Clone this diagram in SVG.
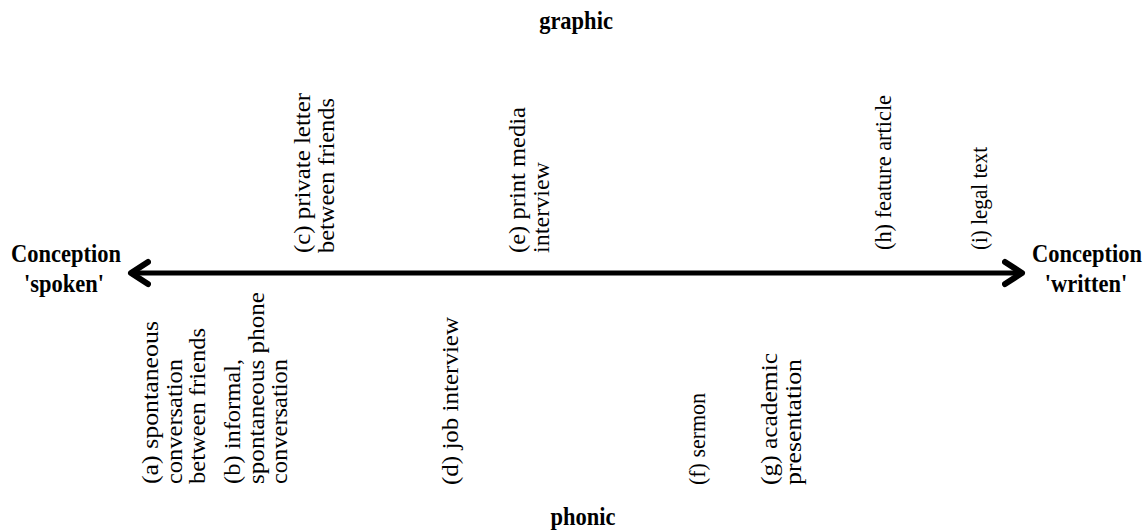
<svg xmlns="http://www.w3.org/2000/svg" width="1144" height="531" viewBox="0 0 1144 531">
  <style>
    text { font-family: "Liberation Serif", "Times New Roman", serif; font-size: 22.5px; fill: #000; }
    .pole { font-weight: bold; text-anchor: middle; }
    .axis { stroke: #000; stroke-width: 5; fill: none; }
  </style>
  <defs>
    <marker id="chev" viewBox="0 0 24 30" refX="20" refY="15" markerWidth="24" markerHeight="30" markerUnits="userSpaceOnUse" orient="auto-start-reverse">
      <path d="M3 4 L20 15 L3 26" fill="none" stroke="#000" stroke-width="6" stroke-linecap="round" stroke-linejoin="round"/>
    </marker>
  </defs>
  <rect width="1144" height="531" fill="#fff"/>

  <!-- medium axis titles -->
  <g id="graphic"><text class="pole" transform="translate(576,29) scale(1,1.125)">graphic</text></g>
  <g id="phonic"><text class="pole" transform="translate(583,525) scale(1,1.125)">phonic</text></g>

  <!-- conception poles -->
  <g id="spoken">
    <text class="pole" transform="translate(66,262) scale(1,1.125)">Conception</text>
    <text class="pole" transform="translate(64,292) scale(1,1.125)">'spoken'</text>
  </g>
  <g id="written">
    <text class="pole" transform="translate(1087,262) scale(1,1.125)">Conception</text>
    <text class="pole" transform="translate(1086,292) scale(1,1.125)">'written'</text>
  </g>

  <!-- conception continuum -->
  <g id="connectors">
    <line class="axis" x1="131" y1="273" x2="1022" y2="273" marker-start="url(#chev)" marker-end="url(#chev)"/>
  </g>

  <!-- text types above the axis (graphic); each line is fitted to its run length -->
  <g id="c">
    <text transform="translate(310,253) rotate(-90)" lengthAdjust="spacingAndGlyphs"><tspan x="0" y="0" textLength="160" lengthAdjust="spacingAndGlyphs">(c) private letter</tspan><tspan x="0" dy="23.5" textLength="155" lengthAdjust="spacingAndGlyphs">between friends</tspan></text>
  </g>
  <g id="e">
    <text transform="translate(525,253) rotate(-90)"><tspan x="0" y="0" textLength="146" lengthAdjust="spacingAndGlyphs">(e) print media</tspan><tspan x="0" dy="23.5" textLength="91" lengthAdjust="spacingAndGlyphs">interview</tspan></text>
  </g>
  <g id="h">
    <text transform="translate(891,250) rotate(-90)" textLength="155" lengthAdjust="spacingAndGlyphs">(h) feature article</text>
  </g>
  <g id="i">
    <text transform="translate(987,250) rotate(-90)" textLength="103" lengthAdjust="spacingAndGlyphs">(i) legal text</text>
  </g>

  <!-- text types below the axis (phonic) -->
  <g id="a">
    <text transform="translate(158,484) rotate(-90)"><tspan x="0" y="0" textLength="163" lengthAdjust="spacingAndGlyphs">(a) spontaneous</tspan><tspan x="0" dy="23.5" textLength="125" lengthAdjust="spacingAndGlyphs">conversation</tspan><tspan x="0" dy="23.5" textLength="156" lengthAdjust="spacingAndGlyphs">between friends</tspan></text>
  </g>
  <g id="b">
    <text transform="translate(240,484) rotate(-90)"><tspan x="0" y="0" textLength="125" lengthAdjust="spacingAndGlyphs">(b) informal,</tspan><tspan x="0" dy="23.5" textLength="192" lengthAdjust="spacingAndGlyphs">spontaneous phone</tspan><tspan x="0" dy="23.5" textLength="125" lengthAdjust="spacingAndGlyphs">conversation</tspan></text>
  </g>
  <g id="d">
    <text transform="translate(458,485) rotate(-90)" textLength="168" lengthAdjust="spacingAndGlyphs">(d) job interview</text>
  </g>
  <g id="f">
    <text transform="translate(705,485) rotate(-90)" textLength="92" lengthAdjust="spacingAndGlyphs">(f) sermon</text>
  </g>
  <g id="g">
    <text transform="translate(777,485) rotate(-90)"><tspan x="0" y="0" textLength="132" lengthAdjust="spacingAndGlyphs">(g) academic</tspan><tspan x="0" dy="23.5" textLength="126" lengthAdjust="spacingAndGlyphs">presentation</tspan></text>
  </g>
</svg>
